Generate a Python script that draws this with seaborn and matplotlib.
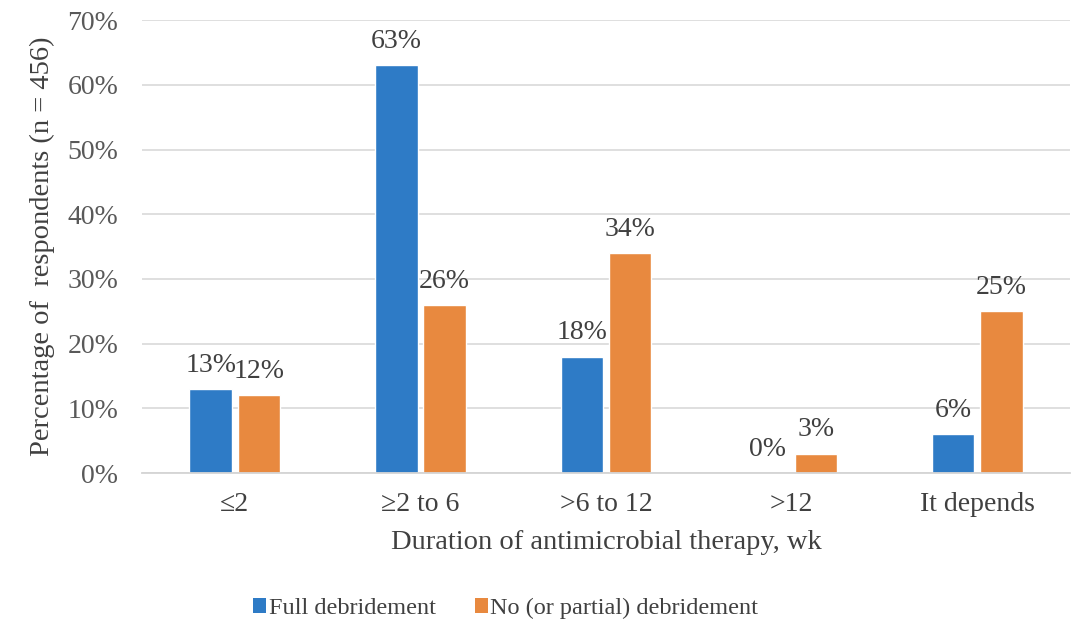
import matplotlib
matplotlib.use("Agg")
import matplotlib.pyplot as plt
import seaborn as sns
import pandas as pd
from matplotlib.patches import Patch

categories = ["\u22642", "\u22652 to 6", ">6 to 12", ">12", "It depends"]
full_debridement = [13, 63, 18, 0, 6]
partial_debridement = [12, 26, 34, 3, 25]
series_names = ["Full debridement", "No (or partial) debridement"]
y_ticks = [0, 10, 20, 30, 40, 50, 60, 70]

df = pd.DataFrame({
    "Duration": categories * 2,
    "Percent": full_debridement + partial_debridement,
    "Group": [series_names[0]] * len(categories) + [series_names[1]] * len(categories),
})

sns.set_theme(style="white")
plt.rcParams["font.family"] = ["Liberation Serif", "DejaVu Serif"]

colors = ["#2E7BC6", "#E8893F"]
text_color = "#404040"
fs = 20
fs_title = 20.5

fig = plt.figure(figsize=(10.92, 6.29), dpi=100)
ax = fig.add_axes([0.130, 0.248, 0.850, 0.720])

sns.barplot(data=df, x="Duration", y="Percent", hue="Group",
            palette=colors, width=0.52, gap=0.12, ax=ax,
            legend=False, saturation=1)

for cont in ax.containers:
    ax.bar_label(cont, labels=[f"{v:.0f}%" for v in cont.datavalues],
                 padding=8, fontsize=fs, color=text_color)

ax.set_ylim(0, 70)
ax.set_yticks(y_ticks)
ax.set_yticklabels([f"{t}%" for t in y_ticks])
ax.yaxis.grid(True, color="#DCDCDC", linewidth=1.3)
ax.set_axisbelow(True)
for s in ["top", "right", "left"]:
    ax.spines[s].set_visible(False)
ax.spines["bottom"].set_color("#D4D4D4")
ax.spines["bottom"].set_linewidth(1.3)

ax.tick_params(axis="y", length=0, pad=17, labelsize=fs, labelcolor="#595959")
ax.tick_params(axis="x", length=0, pad=14, labelsize=fs, labelcolor=text_color)

ax.set_xlabel("Duration of antimicrobial therapy, wk", fontsize=fs_title,
              color=text_color, labelpad=9)
ax.set_ylabel("Percentage of  respondents (n = 456)", fontsize=fs_title,
              color=text_color, labelpad=9)

handles = [Patch(facecolor=c, edgecolor="none") for c in colors]
fig.legend(handles, series_names, loc="center", bbox_to_anchor=(0.463, 0.033),
           ncol=2, frameon=False, fontsize=17.5, handlelength=0.55,
           handleheight=0.55, handletextpad=0.1, columnspacing=1.6,
           labelcolor=text_color)

fig.savefig("out.png", dpi=100)
